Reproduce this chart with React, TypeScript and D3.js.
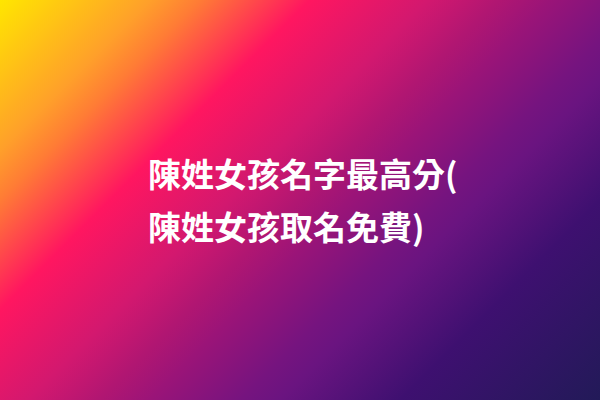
import { useEffect, useRef } from "react";
import * as d3 from "d3";

const titleLines = ["陳姓女孩名字最高分(", "陳姓女孩取名免費)"];
const stopOffsets = [0, 0.15, 0.2, 0.31, 0.43, 0.5, 0.55, 0.64, 0.68, 0.8, 1];
const stopColors = ["#ffe600", "#ffa02a", "#ff7c35", "#ff1660", "#d2186f", "#b01672", "#9a1478", "#76147f", "#6a1480", "#3e1070", "#221a58"];

const App = () => {
  const ref = useRef<SVGSVGElement>(null);

  useEffect(() => {
    const width = 600;
    const height = 400;
    const svg = d3.select(ref.current);
    svg.selectAll("*").remove();

    // diagonal gradient, t = (x + y) / 1000
    const grad = svg.append("defs").append("linearGradient")
      .attr("id", "bg")
      .attr("gradientUnits", "userSpaceOnUse")
      .attr("x1", 0).attr("y1", 0)
      .attr("x2", 500).attr("y2", 500);

    grad.selectAll("stop")
      .data(stopOffsets)
      .enter()
      .append("stop")
      .attr("offset", d => d)
      .attr("stop-color", (d, i) => stopColors[i]);

    svg.append("rect")
      .attr("width", width)
      .attr("height", height)
      .attr("fill", "url(#bg)");

    const yLine = d3.scaleLinear().domain([0, 1]).range([187, 240]);

    svg.append("g")
      .selectAll("text")
      .data(titleLines)
      .enter()
      .append("text")
      .attr("x", 148)
      .attr("y", (d, i) => yLine(i))
      .attr("fill", "#ffffff")
      .attr("font-family", "'Noto Sans CJK TC', 'Noto Sans CJK SC', sans-serif")
      .attr("font-weight", 700)
      .attr("font-size", 33)
      .text(d => d);
  }, []);

  return (
    <svg
      ref={ref}
      width="600"
      height="400"
      style={{ position: "fixed", left: 0, top: 0, display: "block" }}
    ></svg>
  );
};

export default App;
